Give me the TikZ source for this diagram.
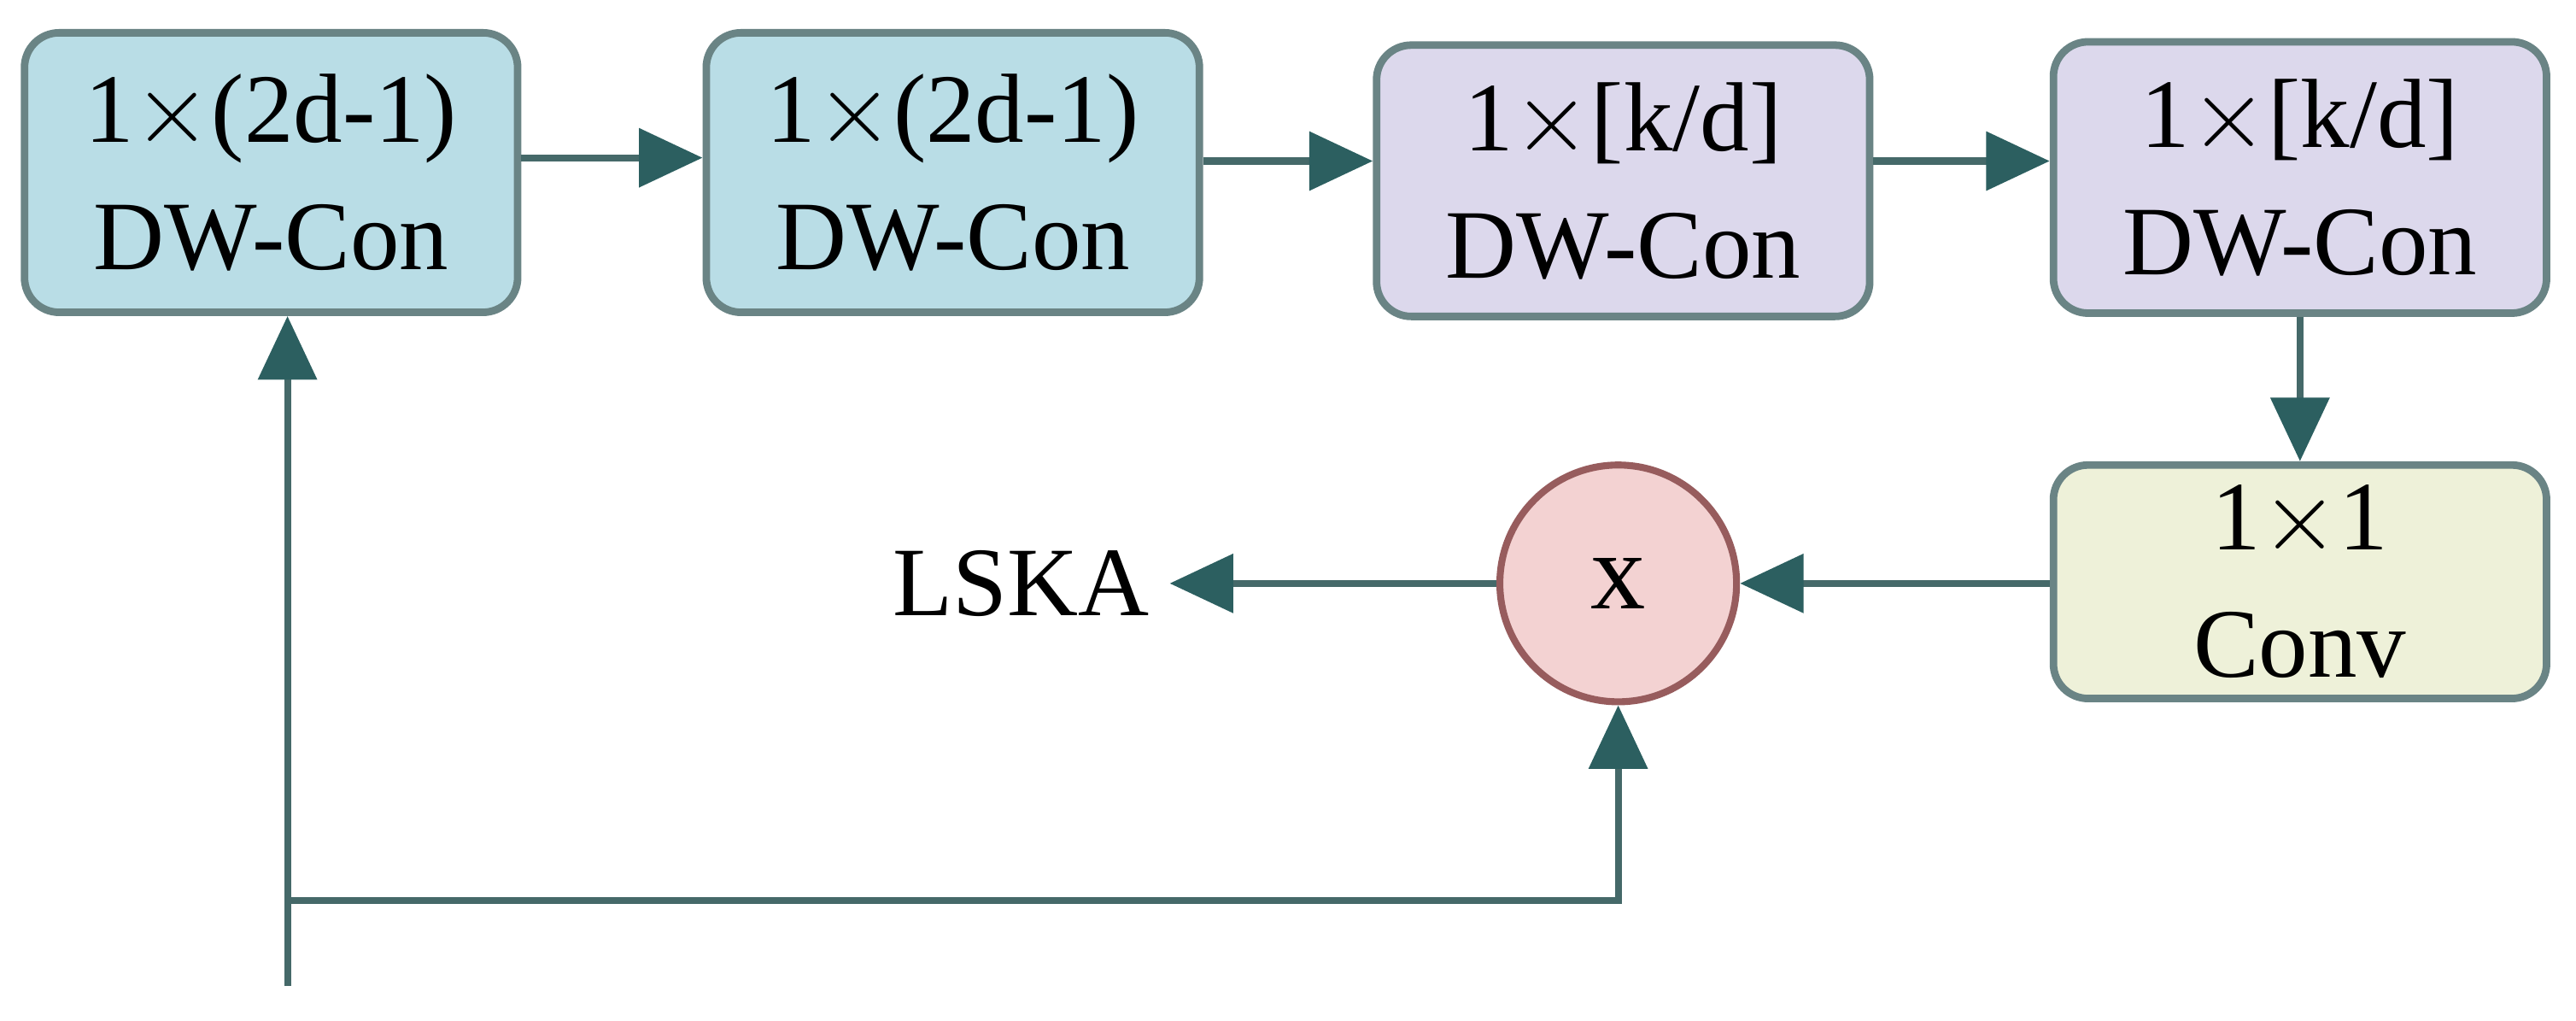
\documentclass[tikz,border=0pt]{standalone}
\usepackage{fontspec}
\setmainfont{Liberation Serif}
\usetikzlibrary{arrows.meta}
\definecolor{tealbox}{HTML}{B9DDE6}
\definecolor{purbox}{HTML}{DCD8EC}
\definecolor{grnbox}{HTML}{EEF1D9}
\definecolor{pinkc}{HTML}{F3D2D2}
\definecolor{edge}{HTML}{6A8485}
\definecolor{arr}{HTML}{2C5F60}
\begin{document}
\begin{tikzpicture}[x=0.01cm,y=-0.01cm,
  box/.style={draw=edge,line width=1.3pt,rounded corners=6pt,minimum width=3cm,minimum height=1.7cm,align=center,font=\fontsize{17}{22}\selectfont,inner sep=0pt},
  ar/.style={draw=arr!70!gray,line width=1.2pt,-{Triangle[length=11pt,width=10pt,fill=arr,color=arr]}}]
\useasboundingbox (0,0) rectangle (1568,621);
\node[box,fill=tealbox] (b1) at (165,105) {1$\times$(2d-1)\\DW-Con};
\node[box,fill=tealbox] (b2) at (580,105) {1$\times$(2d-1)\\DW-Con};
\node[box,fill=purbox,minimum height=1.65cm] (b3) at (988,110) {1$\times$[k/d]\\DW-Con};
\node[box,fill=purbox,minimum height=1.65cm] (b4) at (1400,108) {1$\times$[k/d]\\DW-Con};
\node[box,fill=grnbox,minimum height=1.42cm] (b5) at (1400,354) {1$\times$1\\Conv};
\node[circle,draw=edge!70!red,line width=1.2pt,fill=pinkc,minimum size=1.44cm,font=\fontsize{19}{22}\selectfont] (x) at (985,355) {x};
\node[font=\fontsize{17}{21}\selectfont,anchor=east] (l) at (712,355) {LSKA};
\coordinate (in) at (175,600);
\coordinate (br) at (175,548);
\coordinate (bx) at (985,548);
\draw[ar] (b1.east |- 0,96) -- (b2.west |- 0,96);
\draw[ar] (b2.east |- 0,98) -- (b3.west |- 0,98);
\draw[ar] (b3.east |- 0,98) -- (b4.west |- 0,98);
\draw[ar] (b4) -- (b5);
\draw[ar] (b5.west |- x) -- (x);
\draw[ar] (x) -- (l.east |- x);
\draw[ar] (in) -- (b1.south -| in);
\draw[ar] (br) -- (bx) -- (x);
\end{tikzpicture}
\end{document}
